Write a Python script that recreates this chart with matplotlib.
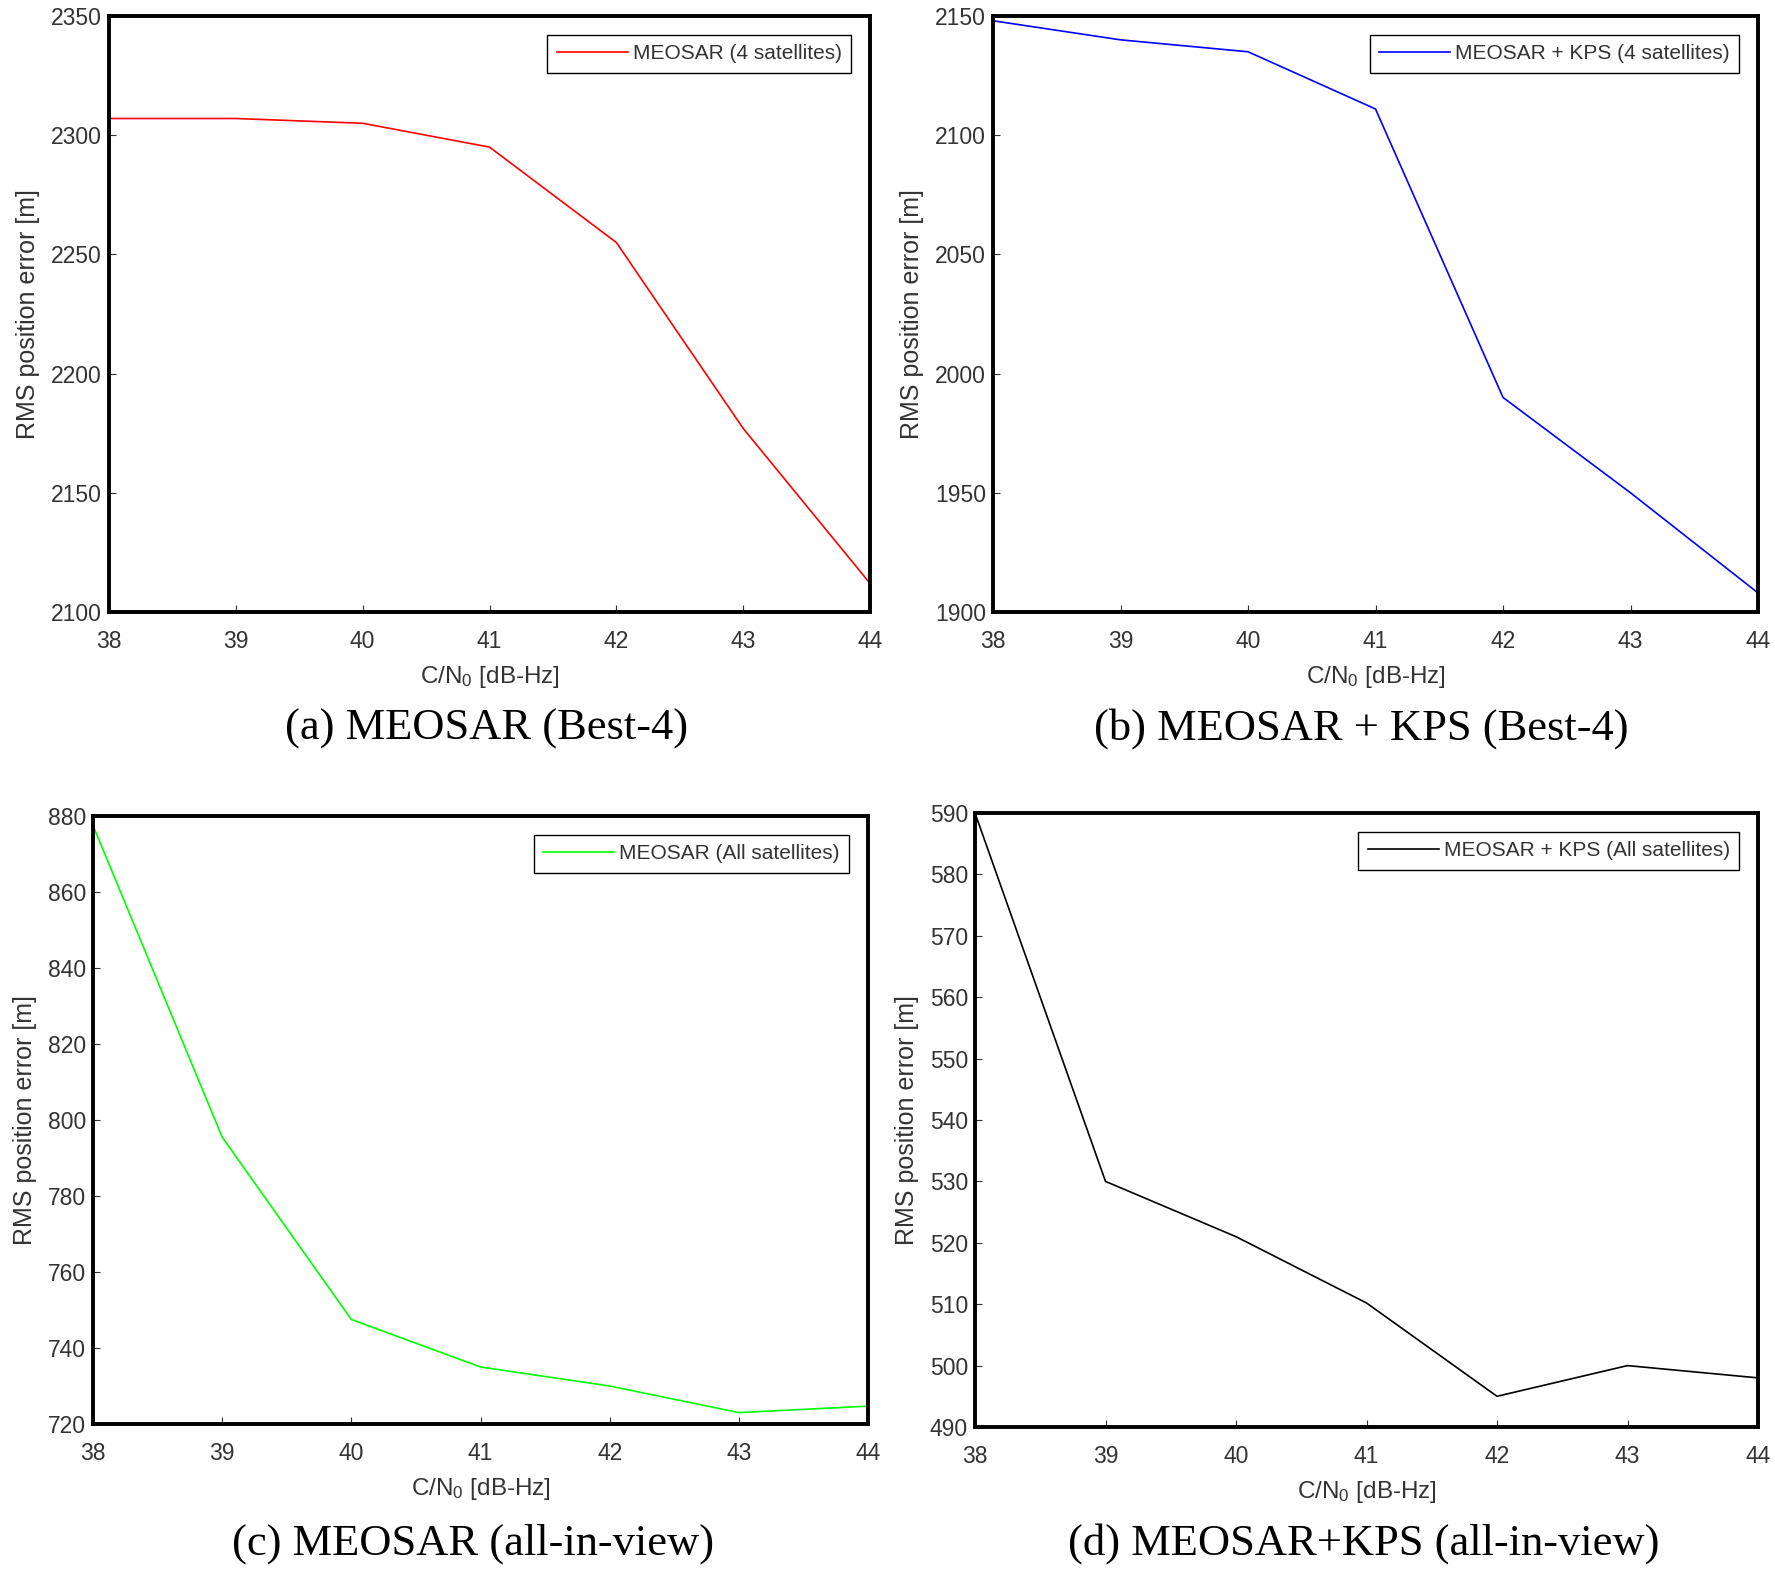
import matplotlib
matplotlib.use("Agg")
import matplotlib.pyplot as plt

plt.rcParams["font.family"] = ["Liberation Sans", "DejaVu Sans"]
plt.rcParams["mathtext.fontset"] = "custom"
plt.rcParams["mathtext.rm"] = "Liberation Sans"
plt.rcParams["mathtext.it"] = "Liberation Sans"

TEXT_GRAY = "#333333"

cn0 = [38, 39, 40, 41, 42, 43, 44]

meosar_best4 = [2307, 2307, 2305, 2295, 2255, 2177, 2112]
meosar_kps_best4 = [2148, 2140, 2135, 2111, 1990, 1950, 1908]
meosar_all = [877.5, 795.5, 747.5, 735, 730, 723, 724.7]
meosar_kps_all = [590, 530, 521, 510.2, 495, 500, 498]

legend_labels = [
    "MEOSAR (4 satellites)",
    "MEOSAR + KPS (4 satellites)",
    "MEOSAR (All satellites)",
    "MEOSAR + KPS (All satellites)",
]
captions = [
    "(a) MEOSAR (Best-4)",
    "(b) MEOSAR + KPS (Best-4)",
    "(c) MEOSAR (all-in-view)",
    "(d) MEOSAR+KPS (all-in-view)",
]
y_limits = [(2100, 2350), (1900, 2150), (720, 880), (490, 590)]
y_steps = [50, 50, 20, 10]
colors = ["#ff0000", "#0000ff", "#00ff00", "#000000"]
series = [meosar_best4, meosar_kps_best4, meosar_all, meosar_kps_all]

W, H = 1775, 1570
# axes boxes in pixels: left, top, right, bottom
boxes = [
    (109, 16, 870, 612),
    (993, 16, 1758, 612),
    (93, 816, 868, 1424),
    (975, 813, 1758, 1427),
]
caption_pos = [(487, 729), (1361, 729), (473, 1544), (1364, 1544)]

fig = plt.figure(figsize=(W / 100, H / 100), dpi=100)

for i in range(4):
    l, t, r, b = boxes[i]
    ax = fig.add_axes([l / W, 1 - b / H, (r - l) / W, (b - t) / H])
    ax.plot(cn0, series[i], color=colors[i], linewidth=1.2, label=legend_labels[i])
    ax.set_xlim(38, 44)
    ax.set_ylim(*y_limits[i])
    lo, hi = y_limits[i]
    ax.set_yticks(list(range(lo, hi + 1, y_steps[i])))
    ax.set_xticks(cn0)
    ax.tick_params(direction="in", length=5, width=0.8, labelsize=16.5,
                   colors=TEXT_GRAY)
    ax.tick_params(axis="x", pad=13)
    ax.tick_params(axis="y", pad=5)
    for sp in ax.spines.values():
        sp.set_linewidth(2.8)
        sp.set_color("black")
    ax.set_xlabel(r"C/N$_0$ [dB-Hz]", fontsize=17.5, color=TEXT_GRAY, labelpad=8)
    ax.set_ylabel("RMS position error [m]", fontsize=18, color=TEXT_GRAY, labelpad=8)
    leg = ax.legend(loc="upper right", fontsize=15, fancybox=False, framealpha=1,
                    handlelength=3.4, handletextpad=0.25, borderpad=0.45,
                    borderaxespad=0.9)
    leg.get_frame().set_edgecolor("black")
    leg.get_frame().set_linewidth(1.0)
    for txt in leg.get_texts():
        txt.set_color(TEXT_GRAY)
    cx, cy = caption_pos[i]
    fig.text(cx / W, 1 - cy / H, captions[i], ha="center", va="center",
             fontsize=32, family=["Liberation Serif", "DejaVu Serif"], color="black")

fig.savefig("out.png", dpi=100)
